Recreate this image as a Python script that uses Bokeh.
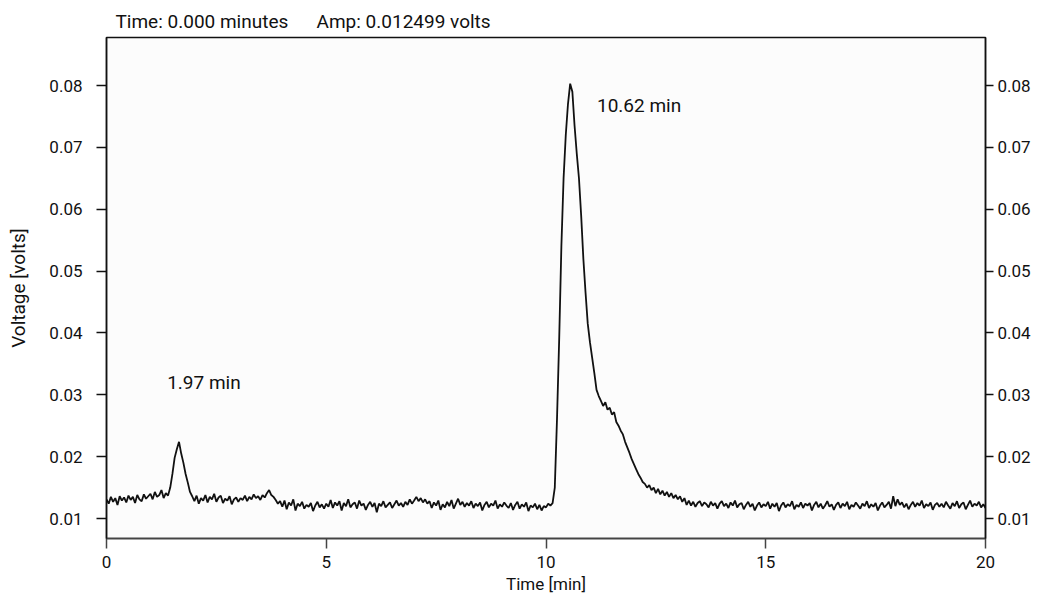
from bokeh.plotting import figure
from bokeh.models import Range1d, LinearAxis, FixedTicker, PrintfTickFormatter, ColumnDataSource
from bokeh.core.properties import value
from bokeh.embed import file_html
from bokeh.resources import INLINE

FONT = "Roboto"

# Acquisition grid (minutes)
sample_interval_min = 0.05

# Detector voltage (volts), one row per minute (20 samples each), plus final sample at 20.00 min
voltage_min00 = [0.0131,0.0124,0.0135,0.0127,0.0133,0.0122,0.0136,0.0129,0.0134,0.0126,0.0137,0.0130,0.0135,0.0125,0.0138,0.0131,0.0128,0.0139,0.0132,0.0136]
voltage_min01 = [0.0140,0.0131,0.0143,0.0135,0.0138,0.0146,0.0133,0.0141,0.0137,0.0150,0.0172,0.0198,0.0212,0.0224,0.0205,0.0190,0.0172,0.0158,0.0143,0.0136]
voltage_min02 = [0.0128,0.0137,0.0124,0.0133,0.0129,0.0138,0.0126,0.0135,0.0131,0.0140,0.0127,0.0134,0.0137,0.0125,0.0132,0.0129,0.0136,0.0123,0.0131,0.0134]
voltage_min03 = [0.0127,0.0133,0.0130,0.0137,0.0128,0.0135,0.0131,0.0139,0.0133,0.0136,0.0130,0.0138,0.0134,0.0141,0.0146,0.0138,0.0135,0.0130,0.0124,0.0128]
voltage_min04 = [0.0119,0.0129,0.0115,0.0126,0.0121,0.0131,0.0113,0.0124,0.0120,0.0127,0.0116,0.0122,0.0119,0.0125,0.0112,0.0121,0.0127,0.0118,0.0123,0.0116]
voltage_min05 = [0.0124,0.0119,0.0130,0.0117,0.0126,0.0121,0.0128,0.0113,0.0125,0.0120,0.0131,0.0118,0.0123,0.0126,0.0116,0.0129,0.0121,0.0124,0.0114,0.0122]
voltage_min06 = [0.0127,0.0119,0.0125,0.0110,0.0124,0.0120,0.0128,0.0118,0.0122,0.0126,0.0117,0.0123,0.0129,0.0121,0.0125,0.0119,0.0127,0.0122,0.0131,0.0124]
voltage_min07 = [0.0129,0.0135,0.0128,0.0133,0.0126,0.0131,0.0124,0.0128,0.0117,0.0126,0.0121,0.0129,0.0114,0.0123,0.0118,0.0127,0.0120,0.0130,0.0116,0.0124]
voltage_min08 = [0.0132,0.0122,0.0127,0.0119,0.0125,0.0121,0.0128,0.0117,0.0124,0.0120,0.0126,0.0113,0.0122,0.0127,0.0118,0.0124,0.0121,0.0129,0.0116,0.0123]
voltage_min09 = [0.0119,0.0126,0.0121,0.0117,0.0125,0.0114,0.0122,0.0127,0.0116,0.0123,0.0119,0.0126,0.0112,0.0121,0.0118,0.0124,0.0115,0.0122,0.0113,0.0120]
voltage_min10 = [0.0118,0.0124,0.0121,0.0125,0.0150,0.0260,0.0390,0.0540,0.0650,0.0720,0.0770,0.0803,0.0790,0.0735,0.0690,0.0650,0.0590,0.0520,0.0465,0.0415]
voltage_min11 = [0.0385,0.0360,0.0335,0.0308,0.0298,0.0290,0.0282,0.0288,0.0276,0.0279,0.0268,0.0272,0.0256,0.0250,0.0242,0.0236,0.0224,0.0215,0.0206,0.0196]
voltage_min12 = [0.0188,0.0180,0.0172,0.0166,0.0159,0.0156,0.0150,0.0154,0.0146,0.0150,0.0141,0.0148,0.0139,0.0145,0.0137,0.0143,0.0135,0.0141,0.0133,0.0138]
voltage_min13 = [0.0131,0.0136,0.0127,0.0133,0.0122,0.0129,0.0121,0.0127,0.0119,0.0125,0.0128,0.0120,0.0126,0.0123,0.0118,0.0127,0.0121,0.0125,0.0116,0.0124]
voltage_min14 = [0.0128,0.0120,0.0124,0.0117,0.0126,0.0121,0.0129,0.0118,0.0123,0.0125,0.0115,0.0122,0.0127,0.0119,0.0124,0.0113,0.0121,0.0126,0.0118,0.0123]
voltage_min15 = [0.0120,0.0127,0.0116,0.0124,0.0119,0.0125,0.0112,0.0121,0.0126,0.0118,0.0123,0.0120,0.0128,0.0115,0.0122,0.0119,0.0126,0.0117,0.0124,0.0121]
voltage_min16 = [0.0125,0.0113,0.0122,0.0127,0.0118,0.0124,0.0116,0.0121,0.0128,0.0119,0.0123,0.0114,0.0122,0.0126,0.0117,0.0124,0.0120,0.0127,0.0115,0.0122]
voltage_min17 = [0.0119,0.0126,0.0121,0.0116,0.0124,0.0120,0.0128,0.0117,0.0123,0.0119,0.0125,0.0113,0.0121,0.0126,0.0118,0.0122,0.0127,0.0116,0.0136,0.0120]
voltage_min18 = [0.0131,0.0122,0.0126,0.0118,0.0124,0.0115,0.0122,0.0127,0.0119,0.0125,0.0121,0.0129,0.0117,0.0123,0.0120,0.0126,0.0114,0.0122,0.0125,0.0119]
voltage_min19 = [0.0124,0.0118,0.0127,0.0121,0.0116,0.0125,0.0120,0.0128,0.0117,0.0123,0.0126,0.0115,0.0122,0.0129,0.0119,0.0124,0.0121,0.0127,0.0118,0.0123]
voltage_min20 = [0.0117]

# Peak annotations
peak_labels = ["1.97 min", "10.62 min"]
peak_label_x = [1.38, 11.16]
peak_label_y = [0.0338, 0.0787]

x_ticks = [0, 5, 10, 15, 20]
y_ticks = [0.01, 0.02, 0.03, 0.04, 0.05, 0.06, 0.07, 0.08]

header_text = "Time: 0.000 minutes" + "\u00a0" * 6 + "Amp: 0.012499 volts"

voltage = (voltage_min00 + voltage_min01 + voltage_min02 + voltage_min03 + voltage_min04 +
           voltage_min05 + voltage_min06 + voltage_min07 + voltage_min08 + voltage_min09 +
           voltage_min10 + voltage_min11 + voltage_min12 + voltage_min13 + voltage_min14 +
           voltage_min15 + voltage_min16 + voltage_min17 + voltage_min18 + voltage_min19 +
           voltage_min20)
time_min = [round(i * sample_interval_min, 2) for i in range(len(voltage))]

src = ColumnDataSource(dict(t=time_min, v=voltage))

p = figure(width=1033, height=597, output_backend="svg", toolbar_location=None,
           x_range=Range1d(0, 20), y_range=Range1d(0.00677, 0.08776),
           min_border_left=106, min_border_right=42, min_border_top=37, min_border_bottom=59,
           title=header_text)

p.title.text_font = FONT
p.title.text_font_size = "19px"
p.title.text_font_style = "normal"
p.title.text_color = "#111111"
p.title.align = "left"
p.title.offset = 9
p.title.standoff = 9

p.background_fill_color = "#fcfcfc"
p.border_fill_color = "white"
p.outline_line_color = "#111111"
p.outline_line_width = 1.5
p.grid.visible = False

p.line("t", "v", source=src, line_color="#111111", line_width=1.8)

p.text(x=peak_label_x, y=peak_label_y, text=peak_labels, text_font=value(FONT),
       text_font_size="19px", text_align="left", text_baseline="top", text_color="#111111")

right_axis = LinearAxis()
p.add_layout(right_axis, "right")

for ax in [p.xaxis[0], p.yaxis[0], right_axis]:
    ax.major_tick_out = 10
    ax.major_tick_in = 0
    ax.minor_tick_line_color = None
    ax.major_tick_line_width = 1.5
    ax.axis_line_width = 1.5
    ax.major_label_text_font = FONT
    ax.major_label_text_font_size = "17px"
    ax.major_label_text_color = "#111111"
    ax.axis_label_text_font = FONT
    ax.axis_label_text_font_size = "17px"
    ax.axis_label_text_font_style = "normal"
    ax.axis_label_text_color = "#111111"

p.xaxis[0].ticker = FixedTicker(ticks=x_ticks)
p.xaxis[0].axis_label = "Time [min]"
p.xaxis[0].axis_line_color = "#444444"
p.xaxis[0].major_tick_line_color = "#444444"
p.xaxis[0].major_label_standoff = 7
p.xaxis[0].axis_label_standoff = 3

for ax in [p.yaxis[0], right_axis]:
    ax.ticker = FixedTicker(ticks=y_ticks)
    ax.formatter = PrintfTickFormatter(format="%.2f")
    ax.axis_line_color = "#111111"
    ax.major_tick_line_color = "#111111"
p.yaxis[0].major_label_standoff = 14
p.yaxis[0].axis_label = "Voltage [volts]"
p.yaxis[0].axis_label_text_font_size = "19px"
p.yaxis[0].axis_label_standoff = 16
right_axis.major_tick_out = 8
right_axis.major_label_standoff = 4

open("out.html", "w").write(file_html(p, INLINE))
